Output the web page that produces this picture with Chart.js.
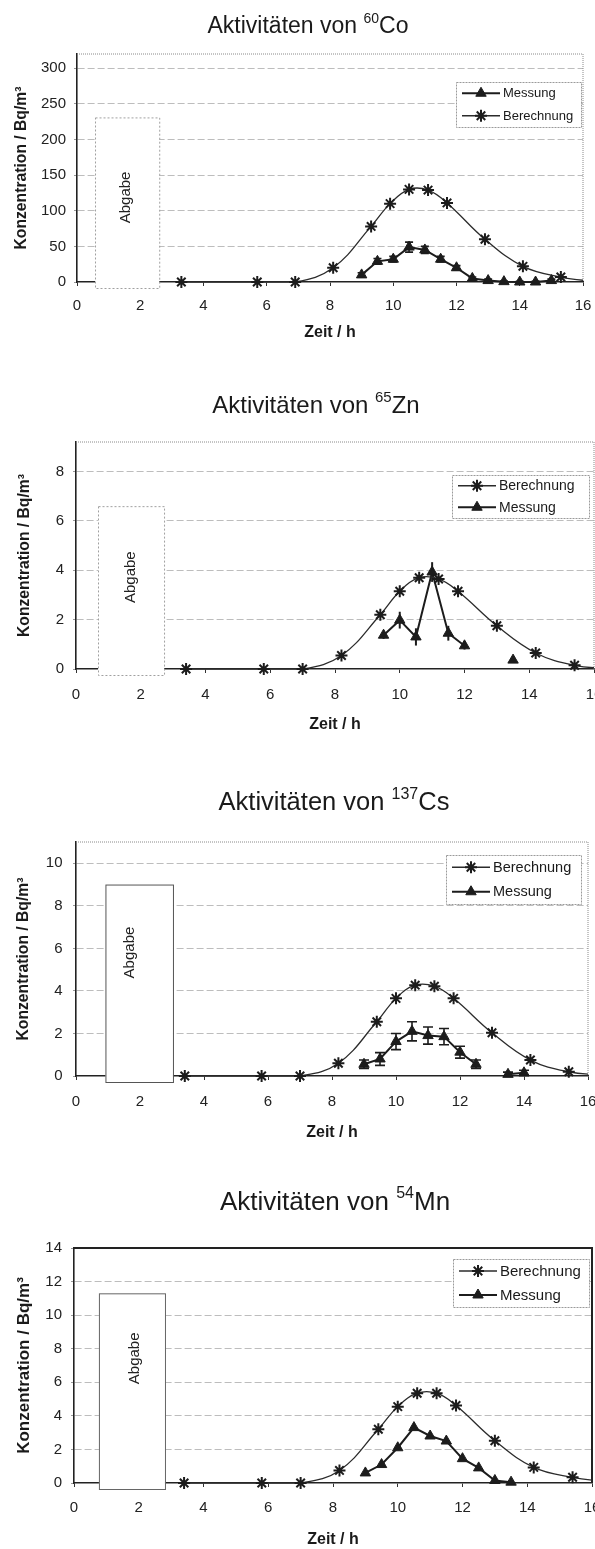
<!DOCTYPE html>
<html>
<head>
<meta charset="utf-8">
<script src="https://cdn.jsdelivr.net/npm/chart.js@4.4.1/dist/chart.umd.min.js"></script>
<style>
  html, body { margin: 0; padding: 0; background: #fff; }
  body { width: 595px; height: 1549px; position: relative; overflow: hidden; }
  canvas { position: absolute; left: 0; }
</style>
</head>
<body>
<canvas id="cCo" width="595" height="350" style="top:0px"></canvas>
<canvas id="cZn" width="595" height="390" style="top:370px"></canvas>
<canvas id="cCs" width="595" height="390" style="top:760px"></canvas>
<canvas id="cMn" width="595" height="399" style="top:1150px"></canvas>
<script>
// --- data (Zeit / h vs. Konzentration / Bq/m3) ---
const xTicks = [0, 2, 4, 6, 8, 10, 12, 14, 16];

// 60Co
const coCalcX = [3.3, 5.7, 6.9, 8.1, 9.3, 9.9, 10.5, 11.1, 11.7, 12.9, 14.1, 15.3, 16.5];
const coCalc  = [0, 0, 0, 20, 78, 110, 130, 129, 111, 60, 22, 7, 0];
const coMeasX = [9, 9.5, 10, 10.5, 11, 11.5, 12, 12.5, 13, 13.5, 14, 14.5, 15];
const coMeas  = [10, 29, 32, 49, 45, 32, 20, 5, 2, 0.5, 0, 0, 2];
const coErr   = [3, 4, 4, 7, 5, 4, 3, 2, 2, 1, 1, 1, 2];

// 65Zn
const znCalcX = [3.4, 5.8, 7.0, 8.2, 9.4, 10.0, 10.6, 11.2, 11.8, 13.0, 14.2, 15.4, 16.6];
const znCalc  = [0, 0, 0, 0.55, 2.2, 3.15, 3.7, 3.65, 3.15, 1.75, 0.65, 0.15, 0];
const znMeasX = [9.5, 10, 10.5, 11, 11.5, 12, 13, 13.5];
const znMeas  = [1.37, 1.98, 1.3, 3.93, 1.45, 0.94, null, 0.36];
const znErr   = [0.15, 0.34, 0.35, 0.4, 0.3, 0.15, 0, 0.05];

// 137Cs
const csCalcX = [3.4, 5.8, 7.0, 8.2, 9.4, 10.0, 10.6, 11.2, 11.8, 13.0, 14.2, 15.4, 16.6];
const csCalc  = [0, 0, 0, 0.6, 2.55, 3.65, 4.27, 4.22, 3.65, 2.03, 0.75, 0.2, 0.03];
const csMeasX = [9, 9.5, 10, 10.5, 11, 11.5, 12, 12.5, 13, 13.5, 14];
const csMeas  = [0.55, 0.8, 1.62, 2.1, 1.9, 1.85, 1.12, 0.55, null, 0.08, 0.15];
const csErr   = [0.2, 0.3, 0.38, 0.45, 0.4, 0.38, 0.28, 0.2, 0, 0.1, 0.12];

// 54Mn
const mnCalcX = [3.4, 5.8, 7.0, 8.2, 9.4, 10.0, 10.6, 11.2, 11.8, 13.0, 14.2, 15.4, 16.6];
const mnCalc  = [0, 0, 0, 0.75, 3.2, 4.55, 5.35, 5.35, 4.62, 2.52, 0.93, 0.34, 0.05];
const mnMeasX = [9, 9.5, 10, 10.5, 11, 11.5, 12, 12.5, 13, 13.5];
const mnMeas  = [0.6, 1.1, 2.1, 3.3, 2.8, 2.5, 1.45, 0.9, 0.15, 0.05];

const FAMILY = '"Liberation Sans", Arial, Helvetica, sans-serif';
const INK = '#1c1c1c';
Chart.defaults.font.family = FAMILY;
Chart.defaults.color = '#222';
Chart.defaults.animation = false;

function pts(xs, ys) { return xs.map((x, i) => ({ x, y: ys[i] })); }

function calcSet(xs, ys) {
    return {
        label: 'Berechnung', data: pts(xs, ys),
        borderColor: '#2b2b2b', borderWidth: 1.3, tension: 0.4,
        pointStyle: 'star', pointRadius: 6, pointBorderWidth: 2,
        pointBorderColor: INK, pointBackgroundColor: INK,
        clip: { left: 10, top: 10, right: 0, bottom: 10 }
    };
}

function measSet(xs, ys, err) {
    return {
        label: 'Messung', data: pts(xs, ys), err,
        borderColor: INK, borderWidth: 2, tension: 0, spanGaps: false,
        pointStyle: 'triangle', pointRadius: 6, pointBorderWidth: 1,
        pointBorderColor: INK, pointBackgroundColor: INK,
        clip: { left: 10, top: 10, right: 0, bottom: 10 }
    };
}

function marker(ctx, ds, x, y) {
    ctx.save();
    ctx.fillStyle = ds.pointBackgroundColor;
    ctx.strokeStyle = ds.pointBorderColor;
    ctx.lineWidth = ds.pointBorderWidth;
    ctx.setLineDash([]);
    const r = ds.pointRadius;
    if (Chart.helpers && Chart.helpers.drawPoint) {
        Chart.helpers.drawPoint(ctx, { pointStyle: ds.pointStyle, radius: r, borderWidth: ds.pointBorderWidth, rotation: 0 }, x, y);
    } else if (ds.pointStyle === 'triangle') {
        ctx.beginPath();
        ctx.moveTo(x, y - r); ctx.lineTo(x + r * 0.87, y + r * 0.5); ctx.lineTo(x - r * 0.87, y + r * 0.5);
        ctx.closePath(); ctx.fill(); ctx.stroke();
    } else {
        ctx.beginPath();
        for (let k = 0; k < 4; k++) {
            const a = k * Math.PI / 4;
            ctx.moveTo(x - r * Math.cos(a), y - r * Math.sin(a));
            ctx.lineTo(x + r * Math.cos(a), y + r * Math.sin(a));
        }
        ctx.stroke();
    }
    ctx.restore();
}

// frame, "Abgabe" box, error bars, title and legend
function decor(c) {
    return {
        id: 'decor',
        beforeDatasetsDraw(chart) {
            const { ctx, chartArea: a, scales: { x, y } } = chart;
            ctx.save();
            // top + right frame
            ctx.strokeStyle = c.frameColor; ctx.lineWidth = c.frameWidth; ctx.setLineDash(c.frameDash);
            ctx.beginPath();
            ctx.moveTo(a.left, a.top); ctx.lineTo(a.right, a.top); ctx.lineTo(a.right, a.bottom);
            ctx.stroke();

            // release box
            const b = c.release;
            const x0 = x.getPixelForValue(b.from), x1 = x.getPixelForValue(b.to);
            const yt = y.getPixelForValue(b.top), yb = a.bottom + 6;
            ctx.fillStyle = '#fff';
            ctx.fillRect(x0, yt, x1 - x0, yb - yt);
            ctx.strokeStyle = c.boxColor; ctx.lineWidth = 1; ctx.setLineDash(c.boxDash);
            ctx.strokeRect(x0 + 0.5, yt + 0.5, x1 - x0, yb - yt);
            ctx.setLineDash([]);
            ctx.translate(x.getPixelForValue(b.textAt), yt + b.textDrop);
            ctx.rotate(-Math.PI / 2);
            ctx.font = '15px ' + FAMILY; ctx.fillStyle = '#222';
            ctx.textAlign = 'center'; ctx.textBaseline = 'middle';
            ctx.fillText('Abgabe', 0, 0);
            ctx.restore();

            // error bars
            ctx.save();
            ctx.strokeStyle = INK; ctx.lineWidth = c.errWidth;
            chart.data.datasets.forEach(ds => {
                if (!ds.err) return;
                ds.data.forEach((p, i) => {
                    const e = ds.err[i];
                    if (p.y == null || !e) return;
                    const px = x.getPixelForValue(p.x);
                    const lo = y.getPixelForValue(p.y - e), hi = y.getPixelForValue(p.y + e);
                    ctx.beginPath();
                    ctx.moveTo(px, lo); ctx.lineTo(px, hi);
                    if (c.cap) {
                        ctx.moveTo(px - c.cap, lo); ctx.lineTo(px + c.cap, lo);
                        ctx.moveTo(px - c.cap, hi); ctx.lineTo(px + c.cap, hi);
                    }
                    ctx.stroke();
                });
            });
            ctx.restore();
        },
        afterDraw(chart) {
            const { ctx, chartArea: a } = chart;
            // title with superscript mass number
            ctx.save();
            ctx.fillStyle = '#1a1a1a'; ctx.textBaseline = 'alphabetic'; ctx.textAlign = 'left';
            const big = c.titleSize + 'px ' + FAMILY, small = Math.round(c.titleSize * 0.62) + 'px ' + FAMILY;
            const pre = 'Aktivitäten von ';
            ctx.font = big; const w1 = ctx.measureText(pre).width, w3 = ctx.measureText(c.symbol).width;
            ctx.font = small; const w2 = ctx.measureText(c.mass).width;
            let tx = c.titleX - (w1 + w2 + w3) / 2;
            ctx.font = big; ctx.fillText(pre, tx, c.titleY); tx += w1;
            ctx.font = small; ctx.fillText(c.mass, tx, c.titleY - c.titleSize * 0.45); tx += w2;
            ctx.font = big; ctx.fillText(c.symbol, tx, c.titleY);
            ctx.restore();

            // legend box inside plot area
            const L = c.legend;
            const bx = a.right - L.dx - L.w, by = a.top + L.dy;
            ctx.save();
            ctx.fillStyle = '#fff'; ctx.fillRect(bx, by, L.w, L.h);
            ctx.strokeStyle = '#9a9a9a'; ctx.lineWidth = 1; ctx.setLineDash([2, 1]);
            ctx.strokeRect(bx + 0.5, by + 0.5, L.w, L.h);
            ctx.setLineDash([]);
            ctx.font = L.size + 'px ' + FAMILY; ctx.textBaseline = 'middle'; ctx.fillStyle = '#1a1a1a';
            L.order.forEach((di, row) => {
                const ds = chart.data.datasets[di];
                const ry = by + L.h * (row === 0 ? 0.25 : 0.75);
                ctx.strokeStyle = ds.borderColor; ctx.lineWidth = ds.borderWidth;
                ctx.beginPath(); ctx.moveTo(bx + 6, ry); ctx.lineTo(bx + 44, ry); ctx.stroke();
                marker(ctx, ds, bx + 25, ry);
                ctx.fillStyle = '#1a1a1a';
                ctx.fillText(ds.label, bx + 47, ry + 0.5);
            });
            ctx.restore();
        }
    };
}

function makeChart(id, datasets, c) {
    return new Chart(document.getElementById(id), {
        type: 'line',
        data: { datasets },
        options: {
            responsive: false,
            animation: false,
            layout: { padding: { top: c.padT, right: c.padR, left: 0, bottom: 0 }, autoPadding: false },
            plugins: { legend: { display: false }, title: { display: false }, tooltip: { enabled: false } },
            scales: {
                x: {
                    type: 'linear', min: 0, max: 16,
                    afterBuildTicks: s => { s.ticks = xTicks.map(v => ({ value: v })); },
                    ticks: { autoSkip: false, maxRotation: 0, padding: c.xTickPad, font: { size: 15 }, color: '#222' },
                    grid: { drawOnChartArea: false, drawTicks: true, tickLength: 4, tickColor: '#333', tickWidth: 1 },
                    border: { color: '#222', width: 1.6 },
                    title: { display: true, text: 'Zeit / h', color: '#1a1a1a',
                        font: { size: 16, weight: 'bold' }, padding: { top: 0, bottom: c.xTitlePad } },
                    // fixed axis box; no label overhang padding so the plot reaches the set right edge
                    afterFit: s => { s.height = c.xH; s.paddingLeft = 0; s.paddingRight = 0; }
                },
                y: {
                    type: 'linear', min: 0, max: c.yMax,
                    ticks: { stepSize: c.yStep, includeBounds: false, padding: c.yTickPad, font: { size: 15 }, color: '#222' },
                    grid: {
                        color: g => (g.tick && g.tick.value === 0) ? 'rgba(0,0,0,0)' : '#bdbdbd',
                        tickLength: 3, tickColor: '#999', lineWidth: 1
                    },
                    border: { color: '#222', width: 1.6, dash: [7, 3] },
                    title: { display: true, text: 'Konzentration / Bq/m³', color: '#1a1a1a',
                        font: { size: c.yTitleSize, weight: 'bold' }, padding: { top: c.yTitlePad, bottom: 0 } },
                    afterFit: s => { s.width = c.yW; s.paddingTop = 0; s.paddingBottom = 0; }
                }
            }
        },
        plugins: [decor(c)]
    });
}

const dotted = { frameColor: '#8a8a8a', frameWidth: 1, frameDash: [1, 1] };

makeChart('cCo', [measSet(coMeasX, coMeas, coErr), calcSet(coCalcX, coCalc)], {
    ...dotted, padT: 54, padR: 12, yW: 77, xH: 68, xTickPad: 11, xTitlePad: 7.4, yTickPad: 8,
    yTitlePad: 12, yTitleSize: 15.7, yMax: 320, yStep: 50,
    mass: '60', symbol: 'Co', titleX: 308, titleY: 33, titleSize: 23,
    release: { from: 0.57, to: 2.6, top: 231, textAt: 1.55, textDrop: 80 },
    boxColor: '#a0a0a0', boxDash: [2, 2], cap: 4, errWidth: 1.6,
    legend: { dx: 2, dy: 28, w: 125, h: 45, size: 13, order: [0, 1] }
});

makeChart('cZn', [calcSet(znCalcX, znCalc), measSet(znMeasX, znMeas, znErr)], {
    ...dotted, padT: 72, padR: 1, yW: 76, xH: 91, xTickPad: 13, xTitlePad: 25.4, yTickPad: 9,
    yTitlePad: 15.7, yTitleSize: 15.7, yMax: 9.2, yStep: 2,
    mass: '65', symbol: 'Zn', titleX: 316, titleY: 43, titleSize: 24,
    release: { from: 0.68, to: 2.72, top: 6.6, textAt: 1.7, textDrop: 71 },
    boxColor: '#a0a0a0', boxDash: [2, 2], cap: 0, errWidth: 2,
    legend: { dx: 5, dy: 33, w: 137, h: 43, size: 14, order: [0, 1] }
});

makeChart('cCs', [calcSet(csCalcX, csCalc), measSet(csMeasX, csMeas, csErr)], {
    ...dotted, padT: 82, padR: 7, yW: 76, xH: 74, xTickPad: 13, xTitlePad: 7.4, yTickPad: 10.5,
    yTitlePad: 14.5, yTitleSize: 15.7, yMax: 11, yStep: 2,
    mass: '137', symbol: 'Cs', titleX: 334, titleY: 50, titleSize: 25.5,
    release: { from: 0.92, to: 3.03, top: 9.0, textAt: 1.69, textDrop: 68 },
    boxColor: '#555', boxDash: [], cap: 5, errWidth: 1.6,
    legend: { dx: 7, dy: 13, w: 135, h: 49, size: 14.5, order: [0, 1] }
});

makeChart('cMn', [calcSet(mnCalcX, mnCalc), measSet(mnMeasX, mnMeas, null)], {
    frameColor: '#222', frameWidth: 2, frameDash: [],
    padT: 98, padR: 3, yW: 74, xH: 66, xTickPad: 12, xTitlePad: 0, yTickPad: 9,
    yTitlePad: 14, yTitleSize: 17, yMax: 14, yStep: 2,
    mass: '54', symbol: 'Mn', titleX: 335, titleY: 60, titleSize: 26,
    release: { from: 0.77, to: 2.81, top: 11.3, textAt: 1.88, textDrop: 65 },
    boxColor: '#666', boxDash: [], cap: 4, errWidth: 1.6,
    legend: { dx: 3, dy: 11, w: 136, h: 48, size: 15, order: [0, 1] }
});
</script>
</body>
</html>
